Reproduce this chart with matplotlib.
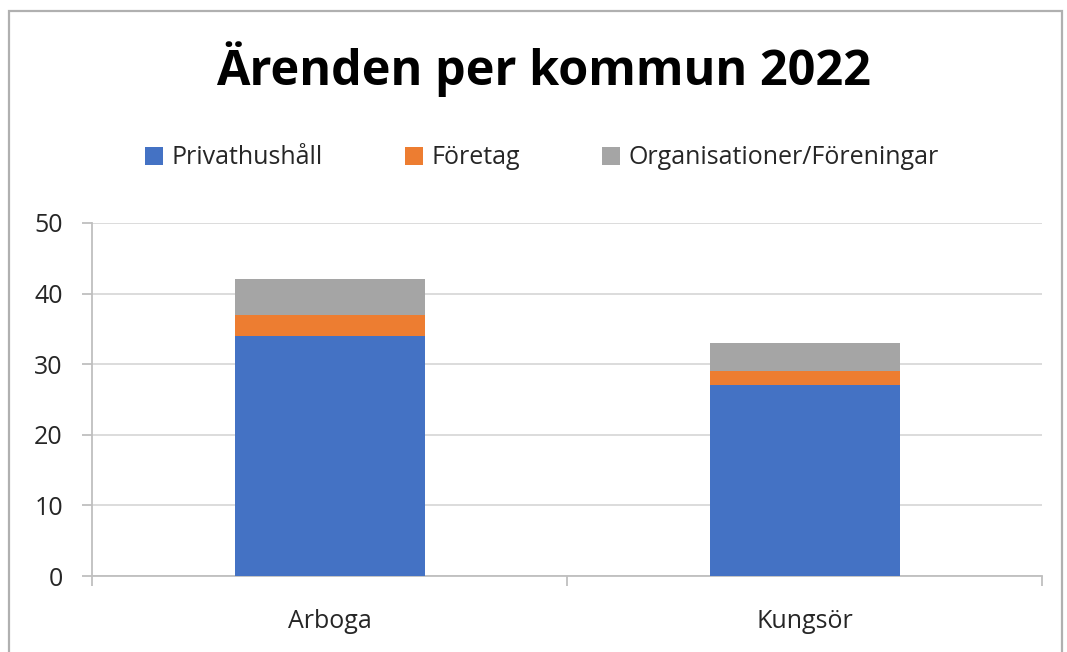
import matplotlib
matplotlib.use("Agg")
import matplotlib.pyplot as plt
from matplotlib.patches import Rectangle
import numpy as np

categories = ["Arboga", "Kungsör"]
series_names = ["Privathushåll", "Företag", "Organisationer/Föreningar"]
privat = [34, 27]
foretag = [3, 2]
org = [5, 4]
colors = ["#4472C4", "#ED7D31", "#A5A5A5"]
title = "Ärenden per kommun 2022"

plt.rcParams['font.family'] = ['Open Sans', 'DejaVu Sans']

W, H = 1067, 652
fig = plt.figure(figsize=(W/100, H/100), dpi=100)
ax = fig.add_axes([92/W, 1 - 576/H, 950/W, 353/H])

x = np.arange(len(categories))
bottom = np.zeros(len(categories))
for vals, name, c in zip([privat, foretag, org], series_names, colors):
    ax.bar(x, vals, width=0.4, bottom=bottom, color=c, label=name, zorder=3)
    bottom += np.array(vals)

ax.set_xlim(-0.5, 1.5)
ax.set_ylim(0, 50)
ax.set_yticks(range(0, 51, 10))
ax.set_xticks(x)
ax.set_xticklabels(categories)
ax.set_xticks([-0.5, 0.5, 1.5], minor=True)
ax.tick_params(axis='x', which='major', length=0, pad=24, labelsize=18, colors='#262626')
ax.tick_params(axis='x', which='minor', length=7, color='#BFBFBF', width=1.3)
ax.tick_params(axis='y', length=7, color='#BFBFBF', width=1.3, labelsize=18, pad=14, labelcolor='#262626')
ax.grid(axis='y', color='#D9D9D9', linewidth=1.3, zorder=0)
for s in ['top', 'right']:
    ax.spines[s].set_visible(False)
for s in ['left', 'bottom']:
    ax.spines[s].set_color('#BFBFBF')
    ax.spines[s].set_linewidth(1.3)

fig.text(543/W, 1 - 85/H, title, ha='center', va='baseline', fontsize=35, fontweight='bold', color='black')

handles, labels = ax.get_legend_handles_labels()
fig.legend(handles, labels, loc='center', bbox_to_anchor=(542/W, 1 - 158/H), ncol=3,
           frameon=False, fontsize=18, handlelength=0.72, handleheight=0.72,
           handletextpad=0.32, columnspacing=3.3, labelcolor='#262626')

fig.patches.append(Rectangle((9/W, -0.05), 1053/W, 1.05 - 11/H, transform=fig.transFigure,
                             fill=False, edgecolor='#B0B0B0', linewidth=1.6))

fig.savefig("out.png", dpi=100)
